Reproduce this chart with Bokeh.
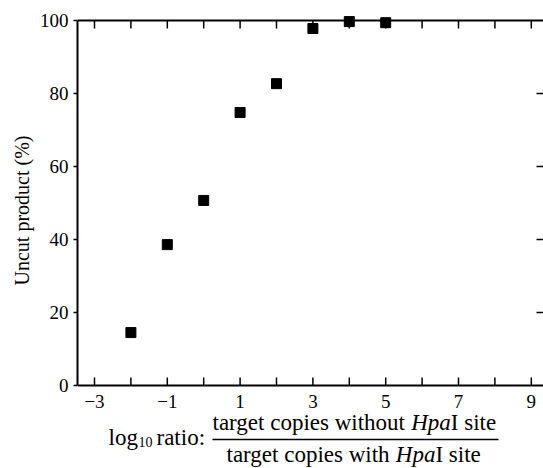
from bokeh.plotting import figure
from bokeh.models import LinearAxis, FixedTicker, Range1d, Title
from bokeh.core.properties import value
from bokeh.embed import file_html
from bokeh.resources import INLINE

# ---- data ----
log_ratio = [-2, -1, 0, 1, 2, 3, 4, 5]
uncut_pct = [14.5, 38.6, 50.7, 74.8, 82.7, 97.8, 99.7, 99.4]
x_major = [-3, -1, 1, 3, 5, 7, 9]
x_major_labels = ["\u22123", "\u22121", "1", "3", "5", "7", "9"]
x_all = [-3, -2, -1, 0, 1, 2, 3, 4, 5, 6, 7, 8, 9]
y_ticks = [0, 20, 40, 60, 80, 100]
y_right_ticks = [20, 40, 60, 80]
y_bottom, y_top = 0, 100
y_label = "Uncut product (%)"

FONT = "Liberation Serif"

# ---- layout (page pixels; the page template has no body margin) ----
W, H = 543, 468
BL, BR, BT = 77, 0, 10
PAGE_Y0 = 385          # y = 0 on page
PAGE_Y100 = 20         # y = 100 on page
SY = (PAGE_Y0 - PAGE_Y100) / 100.0
X0 = -3.467
SX = 36.4
X1 = X0 + (W - BR - BL) / SX
YA = -(H - PAGE_Y0) / SY
YB = (PAGE_Y0 - BT) / SY
YLABEL_START = 285     # page y where the rotated y title begins (bottom end)


def px2x(px):
    return X0 + (px - BL) / SX


def py2y(py):
    return (PAGE_Y0 - py) / SY


p = figure(width=W, height=H, output_backend="svg", toolbar_location=None,
           x_range=Range1d(X0, X1), y_range=Range1d(YA, YB),
           x_axis_location=None, y_axis_location=None,
           min_border_left=BL, min_border_right=BR,
           min_border_top=BT, min_border_bottom=0)
p.outline_line_color = None
p.grid.visible = False
p.background_fill_color = "white"
p.border_fill_color = "white"

left = LinearAxis(ticker=FixedTicker(ticks=y_ticks, minor_ticks=[]),
                  bounds=(y_bottom, y_top),
                  major_tick_in=0, major_tick_out=4, minor_tick_in=0, minor_tick_out=0,
                  major_tick_line_width=1.5, axis_line_width=2,
                  major_label_standoff=5,
                  major_label_text_font=FONT, major_label_text_font_size="19px",
                  major_label_text_color="black")
p.add_layout(left, "left")
# y-axis title
p.add_layout(Title(text=y_label, align="left", offset=H - YLABEL_START,
                   standoff=8, text_font=FONT, text_font_size="20px",
                   text_font_style="normal", text_color="black"), "left")

n = len(x_all)
m = len(y_right_ticks)
# frame lines (bottom and top) with inward ticks, right inward ticks
p.segment(x0=[X0, X0], y0=[y_bottom, y_top], x1=[X1, X1], y1=[y_bottom, y_top],
          line_color="black", line_width=2)
p.segment(x0=x_all, y0=[y_top] * n, x1=x_all, y1=[y_top - 8 / SY] * n,
          line_color="black", line_width=1.5)
p.segment(x0=x_all, y0=[y_bottom] * n, x1=x_all, y1=[y_bottom + 8 / SY] * n,
          line_color="black", line_width=1.5)
p.segment(x0=[X1 - 7 / SX] * m, y0=y_right_ticks, x1=[X1] * m, y1=y_right_ticks,
          line_color="black", line_width=1.5)

p.scatter(log_ratio, uncut_pct, marker="square", size=10,
          fill_color="black", line_color="black")

# ---- x tick labels and the x title below the frame line ----
TICK_Y = 401
p.text(x=x_major, y=[py2y(TICK_Y)] * len(x_major), text=x_major_labels,
       text_font=value(FONT), text_font_size=value("19px"), text_color="black",
       text_align=value("center"), text_baseline=value("alphabetic"))


def txt(px, py, s, size="23px", style="normal"):
    p.text(x=[px2x(px)], y=[py2y(py)], text=[s], text_font=value(FONT),
           text_font_size=value(size), text_font_style=value(style),
           text_color="black", text_align=value("left"),
           text_baseline=value("alphabetic"))


NUM_Y, LINE_Y, DEN_Y, LOG_Y = 422, 439, 454, 437
txt(108, LOG_Y, "log")
txt(138, LOG_Y + 4, "10", size="14px")
txt(156, LOG_Y, "ratio:")
txt(212, NUM_Y, "target copies without")
txt(410.7, NUM_Y, "Hpa", style="italic")
txt(450.3, NUM_Y, "I site")
txt(226, DEN_Y, "target copies with")
txt(395.3, DEN_Y, "Hpa", style="italic")
txt(434.9, DEN_Y, "I site")
p.segment(x0=[px2x(212)], y0=[py2y(LINE_Y)], x1=[px2x(498)], y1=[py2y(LINE_Y)],
          line_color="black", line_width=1.5)

open("out.html", "w").write(file_html(p, INLINE))
